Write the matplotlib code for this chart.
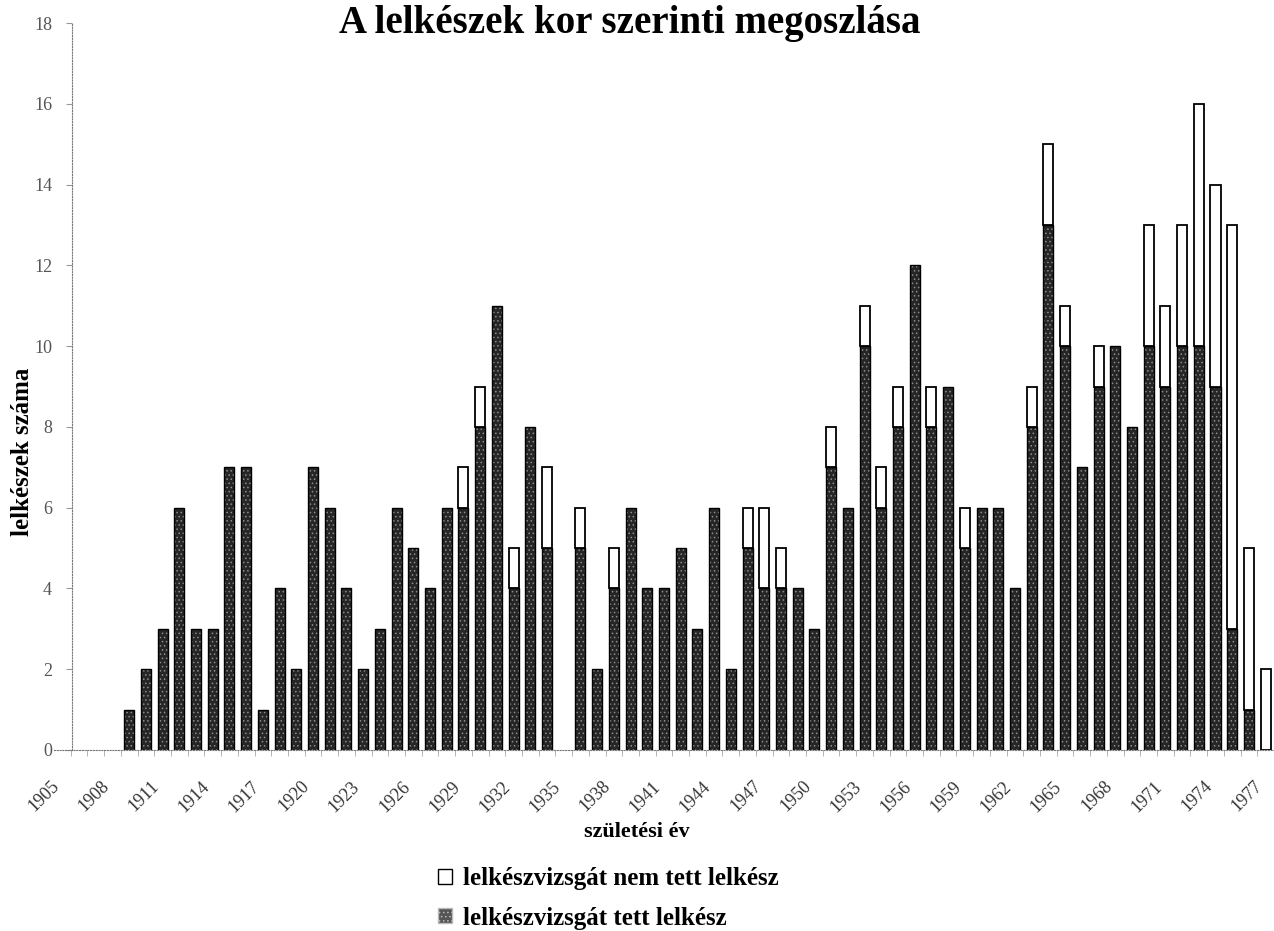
import numpy as np
import matplotlib
matplotlib.use("Agg")
import matplotlib.pyplot as plt
from matplotlib.patches import Patch

plt.rcParams["font.family"] = ["Liberation Serif", "DejaVu Serif"]
plt.rcParams["hatch.linewidth"] = 0.6

years = np.arange(1905, 1978)
# lelkészvizsgát tett lelkész
passed = np.array([0, 0, 0, 0, 1, 2, 3, 6, 3, 3,
                   7, 7, 1, 4, 2, 7, 6, 4, 2, 3,
                   6, 5, 4, 6, 6, 8, 11, 4, 8, 5,
                   0, 5, 2, 4, 6, 4, 4, 5, 3, 6,
                   2, 5, 4, 4, 4, 3, 7, 6, 10, 6,
                   8, 12, 8, 9, 5, 6, 6, 4, 8, 13,
                   10, 7, 9, 10, 8, 10, 9, 10, 10, 9,
                   3, 1, 0])
# lelkészvizsgát nem tett lelkész
not_passed = np.array([0, 0, 0, 0, 0, 0, 0, 0, 0, 0,
                       0, 0, 0, 0, 0, 0, 0, 0, 0, 0,
                       0, 0, 0, 0, 1, 1, 0, 1, 0, 2,
                       0, 1, 0, 1, 0, 0, 0, 0, 0, 0,
                       0, 1, 2, 1, 0, 0, 1, 0, 1, 1,
                       1, 0, 1, 0, 1, 0, 0, 0, 1, 2,
                       1, 0, 1, 0, 0, 3, 2, 3, 6, 5,
                       10, 4, 2])
tick_years = np.arange(1905, 1978, 3)

fig = plt.figure(figsize=(12.74, 9.31), dpi=100)
ax = fig.add_axes([54 / 1274, 1 - 750 / 931, 1 - 54 / 1274, 727 / 931])

w = 0.6
m = passed > 0
ax.bar(years[m], passed[m], width=w, color="#262626", edgecolor="#8c8c8c",
       hatch="....", linewidth=0)
ax.bar(years[m], passed[m], width=w, fill=False, edgecolor="black", linewidth=1.0)
m2 = not_passed > 0
ax.bar(years[m2], not_passed[m2], width=w, bottom=passed[m2], color="white",
       edgecolor="black", linewidth=1.3)

ax.set_xlim(1904.5, 1977.45)
ax.set_ylim(0, 18)
ax.set_yticks(np.arange(0, 19, 2))
ax.set_xticks(tick_years)
ax.set_xticklabels([str(y) for y in tick_years], rotation=45, ha="right",
                   fontsize=13, color="#333333")
ax.set_xticks(years + 0.5, minor=True)
ax.tick_params(axis="x", which="major", length=0, pad=20)
ax.tick_params(axis="x", which="minor", length=4, color="#aaaaaa", width=0.6)
ax.tick_params(axis="y", length=4, color="#999999", labelsize=13,
               labelcolor="#555555", pad=10)

for s in ["top", "right"]:
    ax.spines[s].set_visible(False)
ax.spines["left"].set_position(("data", 1905.55))
ax.spines["left"].set_linestyle((0, (1, 1.5)))
ax.spines["left"].set_color("#777777")
ax.spines["bottom"].set_linestyle((0, (1, 1.5)))
ax.spines["bottom"].set_color("#777777")

fig.text(0.494, 0.975, "A lelkészek kor szerinti megoszlása", ha="center",
         va="center", fontsize=28, fontweight="bold")
fig.text(0.018, 0.515, "lelkészek száma", rotation=90, ha="center",
         va="center", fontsize=18, fontweight="bold")
fig.text(0.5, 0.106, "születési év", ha="center", va="center",
         fontsize=16, fontweight="bold")

handles = [Patch(facecolor="white", edgecolor="black", linewidth=1.0),
           Patch(facecolor="#555555", edgecolor="#bbbbbb", hatch="....", linewidth=1.0)]
fig.legend(handles, ["lelkészvizsgát nem tett lelkész", "lelkészvizsgát tett lelkész"],
           loc="upper left", bbox_to_anchor=(428 / 1274, 1 - 857 / 931),
           frameon=False, prop={"size": 18, "weight": "bold"},
           handlelength=0.55, handleheight=0.55, handletextpad=0.45,
           labelspacing=0.67, borderaxespad=0)

fig.savefig("out.png", dpi=100)
